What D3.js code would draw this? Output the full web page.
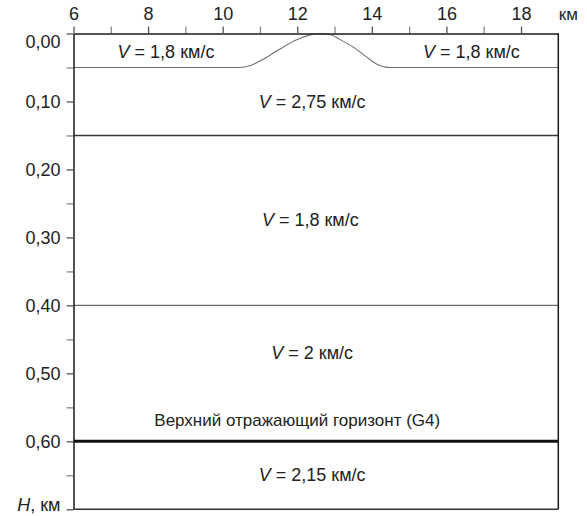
<!DOCTYPE html>
<html><head><meta charset="utf-8">
<script src="https://cdn.jsdelivr.net/npm/d3@7"></script>
<style>
html,body{margin:0;padding:0;background:#fff;}
svg{display:block;font-family:"Liberation Sans",Arial,sans-serif;}
</style></head>
<body>
<svg id="c" width="587" height="516"></svg>
<script>
// ---- data ----
const xMajorTicks = [6, 8, 10, 12, 14, 16, 18];
const xMinorTicks = [7, 9, 11, 13, 15, 17];
const yMajorTicks = [0, 0.1, 0.2, 0.3, 0.4, 0.5, 0.6, 0.7];
const yMinorTicks = [0.05, 0.15, 0.25, 0.35, 0.45, 0.55, 0.65];
const xUnit = "км";
const yUnit = "км";
const yAxisName = "H";
// relief of the first boundary (km distance, km depth)
const surfaceX = [6, 10.45, 10.75, 11.05, 11.5, 12.0, 12.35, 12.6, 12.85, 13.15, 13.5, 13.85, 14.1, 14.5, 19];
const surfaceH = [0.05, 0.05, 0.047, 0.039, 0.024, 0.009, 0.002, 0, 0.001, 0.009, 0.020, 0.034, 0.044, 0.05, 0.05];
// flat boundaries
const boundaryDepths = [0.15, 0.40, 0.60];
// layer labels
const labelVelocity = ["1,8", "1,8", "2,75", "1,8", "2", null, "2,15"];
const labelText = [null, null, null, null, null, "Верхний отражающий горизонт (G4)", null];
const labelX = [8.48, 16.67, 12.4, 12.35, 12.4, 12.0, 12.4];
const labelH = [0.026, 0.026, 0.10, 0.273, 0.47, 0.569, 0.649];

// ---- layout ----
const svg = d3.select("#c");
const x = d3.scaleLinear().domain([6, 19]).range([73.5, 558.3]);
const y = d3.scaleLinear().domain([0, 0.7]).range([33.5, 509.3]);
const fs = 18;
const txt = "#222";

// boundaries
const line = d3.line().x(d => x(d[0])).y(d => y(d[1])).curve(d3.curveMonotoneX);
svg.append("path")
  .attr("d", line(surfaceX.map((v, i) => [v, surfaceH[i]])))
  .attr("fill", "none").attr("stroke", "#707070").attr("stroke-width", 1.1);

const bStyles = [{c:"#3a3a3a", w:1.5}, {c:"#6a6a6a", w:1.1}, {c:"#111", w:3}];
boundaryDepths.forEach((d, i) => {
  svg.append("line")
    .attr("x1", x(6)).attr("x2", x(19))
    .attr("y1", y(d)).attr("y2", y(d))
    .attr("stroke", bStyles[i].c).attr("stroke-width", bStyles[i].w);
});

// axes
const fmt = d3.format(".2f");
const topMinor = svg.append("g").attr("transform", `translate(0,${y(0)})`)
  .call(d3.axisTop(x).tickValues(xMinorTicks).tickSize(7).tickFormat("").tickSizeOuter(0));
const leftMinor = svg.append("g").attr("transform", `translate(${x(6)},0)`)
  .call(d3.axisLeft(y).tickValues(yMinorTicks).tickSize(7).tickFormat("").tickSizeOuter(0));
[topMinor, leftMinor].forEach(g => {
  g.select(".domain").remove();
  g.selectAll("line").attr("stroke", "#888").attr("stroke-width", 1.3);
});

const topAxis = svg.append("g").attr("transform", `translate(0,${y(0)})`)
  .call(d3.axisTop(x).tickValues(xMajorTicks).tickSize(7).tickPadding(6).tickSizeOuter(0)
    .tickFormat(d => String(d)));
const leftAxis = svg.append("g").attr("transform", `translate(${x(6)},0)`)
  .call(d3.axisLeft(y).tickValues(yMajorTicks).tickSize(7).tickPadding(6).tickSizeOuter(0)
    .tickFormat(d => d === 0.7 ? "" : fmt(d).replace(".", ",")));
[topAxis, leftAxis].forEach(g => {
  g.select(".domain").attr("stroke", "#1a1a1a").attr("stroke-width", 1.5);
  g.selectAll(".tick line").attr("stroke", "#555").attr("stroke-width", 1.3);
  g.selectAll("text").attr("font-size", fs).attr("fill", txt)
    .attr("font-family", '"Liberation Sans",Arial,sans-serif');
});
topAxis.selectAll(".tick text").attr("dy", "-0.02em");
leftAxis.selectAll(".tick text").attr("dy", "0.36em");
leftAxis.selectAll(".tick").filter(d => d === 0).select("text").attr("dy", "0.8em");

// H, km label at bottom tick
const hLab = leftAxis.selectAll(".tick").filter(d => d === 0.7).select("text")
  .attr("dy", "0.05em");
hLab.append("tspan").attr("font-style", "italic").text(yAxisName);
hLab.append("tspan").text(", " + yUnit);

// x unit
svg.append("text").attr("x", x(19) + 10).attr("y", y(0) - 13)
  .attr("text-anchor", "middle").attr("font-size", 17).attr("fill", txt)
  .attr("dy", "-0.02em").text(xUnit);

// right and bottom frame
svg.append("line").attr("x1", x(19)).attr("x2", x(19)).attr("y1", y(0)).attr("y2", y(0.7))
  .attr("stroke", "#1a1a1a").attr("stroke-width", 1.5);
svg.append("line").attr("x1", x(6)).attr("x2", x(19)).attr("y1", y(0.7)).attr("y2", y(0.7))
  .attr("stroke", "#333").attr("stroke-width", 1.5);

// layer labels
labelX.forEach((lx, i) => {
  const t = svg.append("text").attr("x", x(lx)).attr("y", y(labelH[i]))
    .attr("text-anchor", "middle").attr("dy", "0.36em")
    .attr("font-size", labelText[i] ? 17 : fs).attr("fill", txt);
  if (labelVelocity[i] !== null) {
    t.append("tspan").attr("font-style", "italic").text("V");
    t.append("tspan").text(" = " + labelVelocity[i] + " км/с");
  } else {
    t.text(labelText[i]);
  }
});
</script>
</body></html>
